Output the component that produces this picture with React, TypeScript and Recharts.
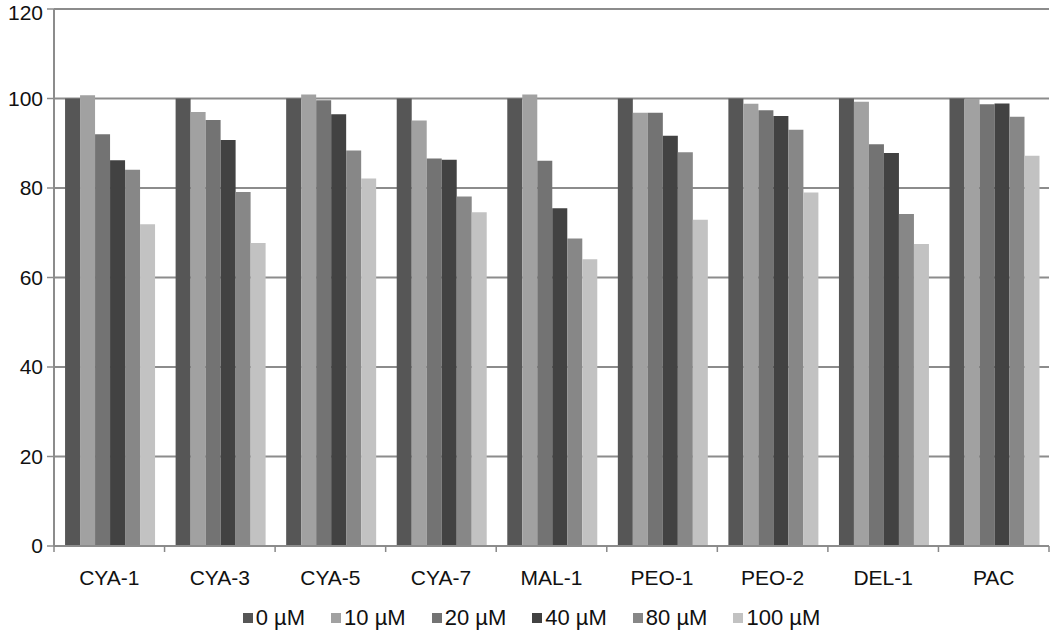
import React from 'react';
import { BarChart, Bar, XAxis, YAxis, CartesianGrid, Legend } from 'recharts';

const categories = ['CYA-1', 'CYA-3', 'CYA-5', 'CYA-7', 'MAL-1', 'PEO-1', 'PEO-2', 'DEL-1', 'PAC'];
const seriesNames = ['0 µM', '10 µM', '20 µM', '40 µM', '80 µM', '100 µM'];
const seriesColors = ['#565656', '#a1a1a1', '#737373', '#424242', '#878787', '#c2c2c2'];

const dose0 = [100, 100, 100, 100, 100, 100, 100, 100, 100];
const dose10 = [100.7, 97.0, 100.9, 95.1, 100.9, 96.8, 98.8, 99.3, 99.9];
const dose20 = [92.0, 95.2, 99.6, 86.6, 86.1, 96.8, 97.4, 89.8, 98.7];
const dose40 = [86.2, 90.7, 96.5, 86.3, 75.5, 91.7, 96.1, 87.8, 98.9];
const dose80 = [84.1, 79.1, 88.4, 78.1, 68.7, 88.0, 93.0, 74.2, 95.9];
const dose100 = [71.9, 67.7, 82.1, 74.6, 64.1, 72.9, 79.0, 67.5, 87.2];

const yTicks = [0, 20, 40, 60, 80, 100, 120];

const seriesValues = [dose0, dose10, dose20, dose40, dose80, dose100];

const data = categories.map((name, i) => {
  const row: Record<string, string | number> = { name };
  seriesNames.forEach((s, k) => {
    row[s] = seriesValues[k][i];
  });
  return row;
});

const FONT = '"Liberation Sans", Arial, sans-serif';

const CategoryTick = (props: any) => {
  const { x, y, payload, index, width } = props;
  const band = (width || 995) / categories.length;
  const left = x - band / 2;
  const right = x + band / 2;
  return (
    <g>
      <line x1={left} y1={y} x2={left} y2={y + 6} stroke="#888" strokeWidth={1.5} />
      {index === categories.length - 1 && (
        <line x1={right} y1={y} x2={right} y2={y + 6} stroke="#888" strokeWidth={1.5} />
      )}
      <text x={x} y={y + 39} textAnchor="middle" fill="#111" fontSize={21} fontFamily={FONT}>
        {payload.value}
      </text>
    </g>
  );
};

const renderLegend = () => (
  <div
    style={{
      display: 'flex',
      justifyContent: 'center',
      alignItems: 'center',
      gap: 26,
      paddingLeft: 14,
      fontFamily: FONT,
      fontSize: 22,
      color: '#111',
      height: 28,
    }}
  >
    {seriesNames.map((s, k) => (
      <span key={s} style={{ display: 'flex', alignItems: 'center' }}>
        <span style={{ width: 10, height: 10, background: seriesColors[k], marginRight: 3 }} />
        {s}
      </span>
    ))}
  </div>
);

export default function App() {
  return (
    <div style={{ position: 'absolute', left: 0, top: 0, background: '#fff' }}>
      <BarChart
        width={1050}
        height={632}
        data={data}
        margin={{ top: 9, right: 1, left: 0, bottom: 0 }}
        barCategoryGap="10%"
        barGap={0}
      >
        <CartesianGrid vertical={false} stroke="#8c8c8c" strokeWidth={2} />
        <XAxis
          dataKey="name"
          height={58}
          tickSize={0}
          tickMargin={0}
          tickLine={false}
          axisLine={{ stroke: '#8c8c8c', strokeWidth: 2 }}
          tick={<CategoryTick />}
          interval={0}
        />
        <YAxis
          width={54}
          domain={[0, 120]}
          ticks={yTicks}
          tickSize={7}
          tickMargin={4}
          axisLine={{ stroke: '#8c8c8c', strokeWidth: 2 }}
          tickLine={{ stroke: '#8c8c8c', strokeWidth: 1.5 }}
          tick={{ fill: '#111', fontSize: 21, fontFamily: FONT }}
        />
        <Legend verticalAlign="bottom" height={28} content={renderLegend} />
        {seriesNames.map((s, k) => (
          <Bar key={s} dataKey={s} fill={seriesColors[k]} isAnimationActive={false} />
        ))}
      </BarChart>
    </div>
  );
}
